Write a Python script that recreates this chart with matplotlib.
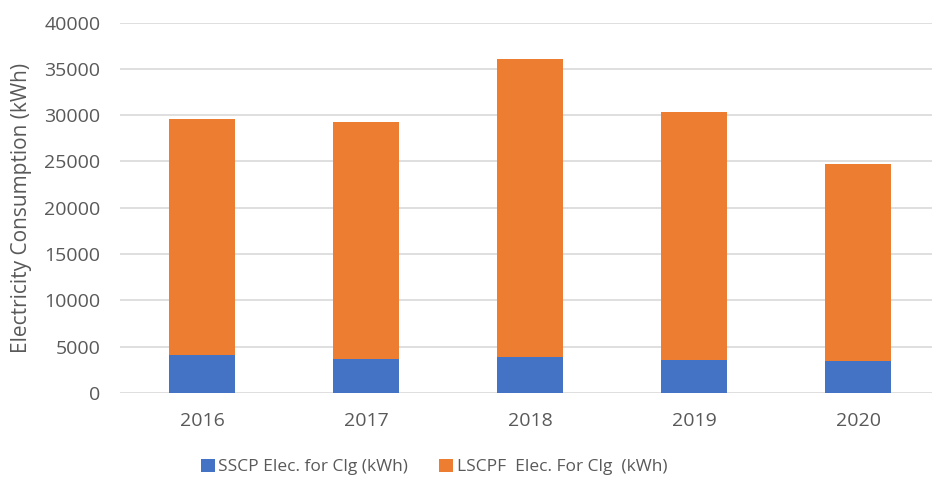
import matplotlib
matplotlib.use("Agg")
import matplotlib.pyplot as plt
import numpy as np

years = ["2016", "2017", "2018", "2019", "2020"]
sscp = [4150, 3700, 3850, 3600, 3450]
lscpf = [25400, 25550, 32200, 26700, 21300]

plt.rcParams['font.family'] = ['Open Sans', 'DejaVu Sans']

fig = plt.figure(figsize=(9.32, 4.83), dpi=100)
ax = fig.add_axes([120 / 932, 90 / 483, 812 / 932, 370.5 / 483])

x = np.arange(len(years))
ax.bar(x, sscp, width=0.4, color='#4472C4', label='SSCP Elec. for Clg (kWh)', zorder=3)
ax.bar(x, lscpf, width=0.4, bottom=sscp, color='#ED7D31',
       label='LSCPF  Elec. For Clg  (kWh)', zorder=3)

ax.set_xlim(-0.5, 4.45)
ax.set_ylim(0, 40000)
ax.set_yticks(range(0, 40001, 5000))
ax.set_xticks(x)
ax.set_xticklabels(years)
ax.grid(axis='y', color='#D9D9D9', linewidth=1.2, zorder=0)
for s in ax.spines.values():
    s.set_visible(False)
ax.tick_params(length=0, labelsize=14, labelcolor='#595959')
ax.tick_params(axis='y', pad=14)
ax.tick_params(axis='x', pad=14)
ax.set_ylabel('Electricity Consumption (kWh)', fontsize=15, color='#595959')
ax.yaxis.set_label_coords(-88 / 812, 0.5)

fig.legend(loc='center', bbox_to_anchor=(434 / 932, 1 - 467 / 483), ncol=2, frameon=False,
           fontsize=12.5, labelcolor='#595959', handlelength=0.8, handleheight=0.8,
           handletextpad=0.2, columnspacing=1.8)

fig.savefig('out.png', dpi=100)
